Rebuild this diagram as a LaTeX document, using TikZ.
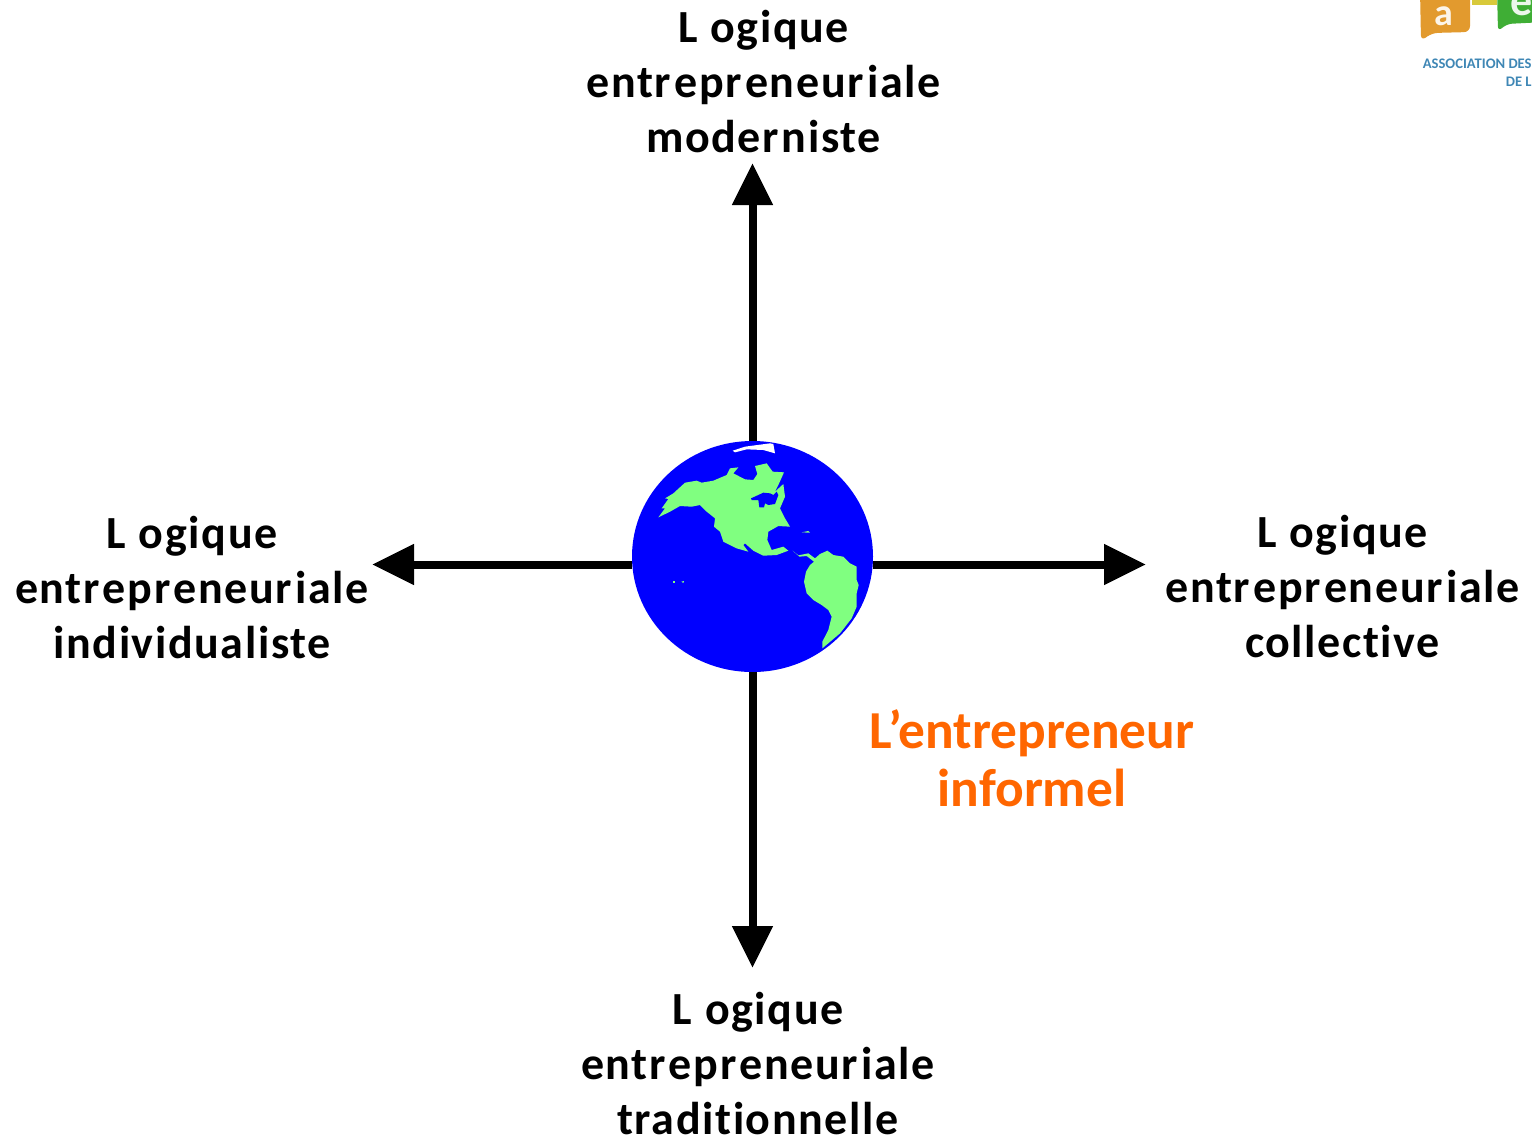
\documentclass[tikz,border=0pt]{standalone}
\usepackage{fontspec}
\setmainfont{Carlito}
\newfontfamily\lblfont[LetterSpace=3.5,Ligatures=NoCommon]{Carlito Bold}
\newfontfamily\orfont{Carlito Bold}
\usetikzlibrary{arrows.meta,shapes.geometric}
\definecolor{land}{HTML}{80FF80}
\definecolor{ocean}{HTML}{0000FF}
\definecolor{titleor}{HTML}{FF6600}
\definecolor{logoor}{HTML}{E29A2E}
\definecolor{logogr}{HTML}{3FAE35}
\definecolor{logoye}{HTML}{D8C93A}
\definecolor{logobl}{HTML}{3F87B5}
\newcommand{\Lg}{L\kern6.5pt ogique}
\newcommand{\Ent}{entr\kern1.7pt epr\kern1.7pt eneur\kern1.7pt iale}
\tikzset{
  logic/.style={font=\lblfont\fontsize{23}{27.5}\selectfont,align=center,inner sep=0pt,text=black},
  axis/.style={line width=4pt,-{Triangle[length=21pt,width=19.5pt]},black},
  globe/.style={ellipse,fill=ocean,inner sep=0pt,minimum width=120.5pt,minimum height=115.5pt},
  continent/.style={fill=land,draw=none},
  logobubble/.style={draw=none},
}
\begin{document}
\begin{tikzpicture}[x=0.5pt,y=-0.5pt]
\useasboundingbox (0,0) rectangle (1532,1137);
\node[globe] (globe) at (752.5,556.5) {};
\coordinate (up) at (752.5,163);
\coordinate (down) at (752.5,968);
\coordinate (lefttip) at (372,564.5);
\coordinate (righttip) at (1146,564.5);
\draw[axis] (globe.north) -- (up);
\draw[axis] (globe.south) -- (down);
\draw[axis] (globe.west |- lefttip) -- (lefttip);
\draw[axis] (globe.east |- righttip) -- (righttip);
% continents, in coordinates of a 3x crop
\begin{scope}[shift={(620,430)},x=0.16667pt,y=-0.16667pt]
\fill[continent] (115,262) -- (135,235) -- (125,235) -- (145,207) -- (135,205) -- (160,190) -- (195,158) -- (230,152) -- (245,158) -- (280,152) -- (320,135) -- (330,115) -- (355,112) -- (340,130) -- (375,148) -- (400,150) -- (412,132) -- (405,108) -- (440,100) -- (458,125) -- (492,127) -- (475,165) -- (465,185) -- (490,162) -- (495,200) -- (480,235) -- (495,265) -- (510,290) -- (475,288) -- (445,305) -- (442,330) -- (455,360) -- (490,350) -- (505,362) -- (470,375) -- (430,377) -- (400,362) -- (375,340) -- (370,345) -- (385,365) -- (350,355) -- (310,335) -- (300,305) -- (282,290) -- (285,265) -- (260,245) -- (240,225) -- (215,230) -- (180,228) -- (150,245) -- cycle;
\fill[continent] (518,362) -- (535,376) -- (565,370) -- (585,385) -- (600,372) -- (622,362) -- (640,375) -- (670,380) -- (690,400) -- (710,410) -- (710,450) -- (716,465) -- (710,490) -- (710,530) -- (695,565) -- (660,610) -- (607,655) -- (607,635) -- (625,600) -- (635,560) -- (625,540) -- (605,525) -- (580,510) -- (560,490) -- (552,455) -- (558,425) -- (570,405) -- (582,395) -- (560,378) -- (538,380) -- cycle;
\fill[continent] (545,307) -- (565,303) -- (570,308) -- cycle;
\fill[continent] (160,453) rectangle (164,459);
\fill[continent] (184,455) -- (192,453) -- (190,459) -- cycle;
\fill[ocean] (393,205) -- (415,195) -- (430,188) -- (450,190) -- (460,195) -- (470,185) -- (475,195) -- (465,222) -- (445,225) -- (435,220) -- (432,232) -- (418,232) -- (415,210) -- (395,210) -- cycle;
\fill[white] (338,62) -- (375,50) -- (450,40) -- (460,42) -- (465,70) -- (430,60) -- (380,58) -- (345,67) -- cycle;
\end{scope}
% labels
\node[logic] (top) at (763.5,82) {\Lg\\\Ent\\moder\kern1.5pt niste};
\node[logic] (left) at (192,587.5) {\Lg\\\Ent\\individualiste};
\node[logic] (right) at (1342.5,587) {\Lg\\\Ent\\collective};
\node[logic] (bottom) at (758,1064) {\Lg\\\Ent\\traditionnelle};
\node[font=\orfont\fontsize{26.7}{29}\selectfont,text=titleor,align=center,inner sep=0pt] (title) at (1032,758) {L’entrepreneur\\informel};
% logo
\begin{scope}
\clip (1400,0) rectangle (1532,100);
\fill[logoor,rounded corners=3pt,logobubble] (1420,-10) -- (1470,-10) -- (1470,32) -- (1432,33) -- (1421,41) -- cycle;
\fill[logoye,logobubble] (1472,-10) rectangle (1497,5);
\fill[logogr,rounded corners=3pt,logobubble] (1497,-10) -- (1545,-10) -- (1545,22) -- (1506,24) -- (1498,32) -- cycle;
\node[font=\orfont\fontsize{19}{19}\selectfont,text=white!90!logoor,inner sep=0pt] (loga) at (1444,16) {a};
\node[font=\orfont\fontsize{22}{22}\selectfont,text=white!90!logogr,inner sep=0pt] (loge) at (1522,5) {e};
\node[font=\orfont\fontsize{7.3}{9}\selectfont,text=logobl,anchor=north east,align=right,inner sep=0pt] (logotext) at (1532,59) {ASSOCIATION DES\\DE L};
\end{scope}
\end{tikzpicture}
\end{document}
